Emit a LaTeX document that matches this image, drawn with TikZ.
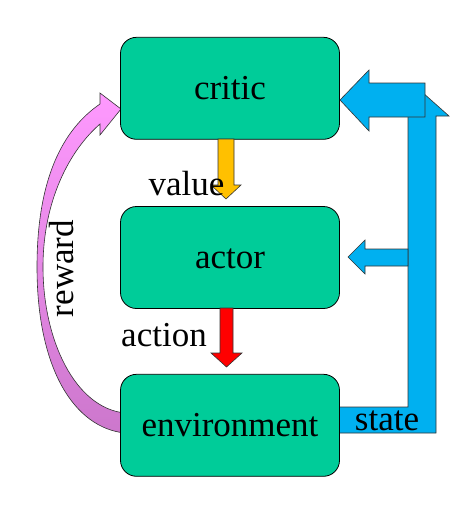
\documentclass[tikz,border=0pt]{standalone}
\usepackage{fontspec}
\setmainfont{Liberation Serif}
\usetikzlibrary{calc}
\definecolor{boxgreen}{RGB}{0,204,153}
\definecolor{arrowblue}{RGB}{0,176,240}
\definecolor{arrowyellow}{RGB}{255,192,0}
\definecolor{arrowred}{RGB}{255,0,0}
\definecolor{rewardtop}{RGB}{255,153,255}
\definecolor{rewardbot}{RGB}{204,119,204}
\begin{document}
\begin{tikzpicture}[x=1pt,y=-1pt,
  box/.style={draw=black, line width=0.8pt, fill=boxgreen, rounded corners=16pt,
    minimum width=219pt, minimum height=102pt, inner sep=0pt,
    text height=22.5pt, text depth=0pt, font=\fontsize{35}{42}\selectfont},
  lbl/.style={anchor=base, inner sep=0pt, font=\fontsize{35}{42}\selectfont},
  blockarrow/.style={draw=black!80, line width=0.6pt, line join=miter}]
\useasboundingbox (0,0) rectangle (475,515);
% reward curved arrow
\draw[blockarrow, top color=rewardtop, bottom color=rewardbot]
  (125,433) .. controls (75,428) and (37,370) .. (37,267)
  .. controls (37,180) and (62,130) .. (100,104)
  -- (100,93) -- (121,109) -- (100,135) -- (100,124)
  .. controls (70,150) and (43,200) .. (43,267)
  .. controls (43,340) and (75,408) .. (125,413) -- cycle;
% state L-shaped arrow
\draw[blockarrow, fill=arrowblue]
  (330,407) -- (408,407) -- (408,116) -- (395,116) -- (422,92) -- (449,116)
  -- (436,116) -- (436,433) -- (330,433) -- cycle;
% boxes
\node[box] (critic) at (230,88.3) {critic};
\node[box] (actor) at (230,257.5) {actor};
\node[box] (env) at (230,425.3) {environment};
% state to critic
\draw[blockarrow, fill=arrowblue]
  (340,100) -- (369,70) -- (369,83) -- (425,83) -- (425,117) -- (369,117) -- (369,131) -- cycle;
% state to actor
\draw[blockarrow, fill=arrowblue]
  (348,257) -- (365,240) -- (365,249) -- (408,249) -- (408,266) -- (365,266) -- (365,274) -- cycle;
% value arrow
\draw[blockarrow, fill=arrowyellow]
  (218,139) -- (234,139) -- (234,185) -- (241,185) -- (226,199) -- (211,185) -- (218,185) -- cycle;
% action arrow
\draw[blockarrow, fill=arrowred]
  (220,308) -- (233,308) -- (233,353) -- (242,353) -- (226.5,367) -- (211,353) -- (220,353) -- cycle;
% labels
\node[lbl] (value) at (186.5,195) {value};
\node[lbl] (action) at (164,346.7) {action};
\node[lbl] (state) at (387,430.7) {state};
\node[lbl, rotate=90] (reward) at (73.5,268.5) {reward};
\end{tikzpicture}
\end{document}
